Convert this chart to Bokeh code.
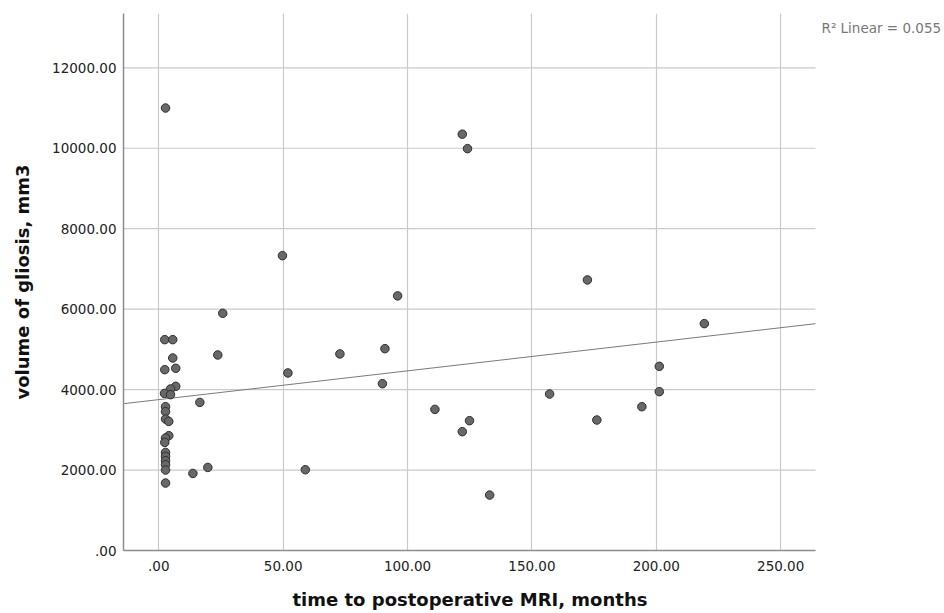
from bokeh.plotting import figure
from bokeh.models import FixedTicker, Range1d, ColumnDataSource, Title
from bokeh.core.properties import value
from bokeh.embed import file_html
from bokeh.resources import INLINE

# Data
months = [2.7, 122.0, 124.1, 49.7, 96.0, 72.8, 90.9, 51.9, 89.9, 111.0,
          124.9, 122.0, 58.9, 133.0, 157.1, 176.1, 172.3, 194.2, 201.2, 201.2,
          219.3, 25.7, 2.4, 5.6, 23.7, 5.6, 2.4, 6.8, 6.8, 4.7,
          2.3, 4.7, 16.5, 2.7, 2.7, 2.7, 4.0, 4.0, 2.7, 2.4,
          2.7, 2.7, 2.7, 2.7, 2.7, 13.7, 19.7, 2.7]
volume = [11000, 10350, 9990, 7330, 6330, 4887, 5018, 4414, 4147, 3508,
          3227, 2955, 2008, 1378, 3891, 3244, 6727, 3575, 4578, 3949,
          5640, 5897, 5242, 5242, 4861, 4786, 4496, 4529, 4081, 4015,
          3906, 3874, 3682, 3575, 3451, 3269, 3210, 2854, 2797, 2687,
          2438, 2339, 2232, 2132, 2000, 1916, 2065, 1677]

fit_intercept = [3751.0]
fit_slope = [7.15]
r2_text = ["R\u00b2 Linear = 0.055"]

x_ticks = [0, 50, 100, 150, 200, 250]
x_tick_labels = [".00", "50.00", "100.00", "150.00", "200.00", "250.00"]
y_ticks = [0, 2000, 4000, 6000, 8000, 10000, 12000]
y_tick_labels = [".00", "2000.00", "4000.00", "6000.00", "8000.00", "10000.00", "12000.00"]

x_title = "time to postoperative MRI, months"
y_title = "volume of gliosis, mm3"

# axis extent of the plotted area (x), plus extra canvas room on the right for the R² note
x_lo, x_hi = -14.2, 264.0
x_canvas_hi = 315.86
y_lo, y_hi = 0.0, 13350.0

p = figure(width=944, height=613, output_backend="svg", toolbar_location=None,
           x_range=Range1d(x_lo, x_canvas_hi), y_range=Range1d(y_lo, y_hi),
           min_border_left=123, min_border_right=0, min_border_top=13,
           min_border_bottom=63)
p.outline_line_color = None
p.background_fill_color = "white"
p.border_fill_color = "white"

font = "DejaVu Sans"
for ax, ticks, labels in ((p.xaxis[0], x_ticks, x_tick_labels), (p.yaxis[0], y_ticks, y_tick_labels)):
    ax.ticker = FixedTicker(ticks=ticks)
    ax.major_label_overrides = {t: l for t, l in zip(ticks, labels)}
    ax.major_tick_out = 0
    ax.major_tick_in = 0
    ax.minor_tick_out = 0
    ax.minor_tick_in = 0
    ax.axis_line_color = "#8c8c8c"
    ax.axis_line_width = 1.5
    ax.major_label_text_font = font
    ax.major_label_text_font_size = "13.5px"
    ax.major_label_text_color = "#222222"
    ax.axis_label_text_font = font
    ax.axis_label_text_font_style = "bold"
    ax.axis_label_text_font_size = "18px"
    ax.axis_label_text_color = "#111111"

p.xaxis.bounds = (x_lo, x_hi)
p.yaxis.axis_label = y_title
p.xaxis.major_label_standoff = 10
p.yaxis.major_label_standoff = 7
p.yaxis.axis_label_standoff = 16

# spacer between the tick labels and the x title
p.add_layout(Title(text=" ", standoff=0, text_font_size="9px"), "below")
# x-axis title, centred under the plotted area (not the whole canvas)
p.add_layout(Title(text=x_title, align="left", offset=169, standoff=2,
                   text_font=font, text_font_style="bold", text_font_size="18px",
                   text_color="#111111"), "below")

p.xgrid.ticker = FixedTicker(ticks=x_ticks)
p.ygrid.visible = False
grid_color = "#cacaca"
p.segment(x0=[x_lo] * len(y_ticks), x1=[x_hi] * len(y_ticks), y0=y_ticks, y1=y_ticks,
          line_color=grid_color, line_width=1.2, level="underlay")
p.xgrid.grid_line_color = grid_color
p.xgrid.grid_line_width = 1.2

# regression line across the plotted x range
fx = [x_lo, x_hi]
fy = [fit_intercept[0] + fit_slope[0] * v for v in fx]
p.line(fx, fy, line_color="#7a7a7a", line_width=1)

src = ColumnDataSource(dict(x=months, y=volume))
p.scatter("x", "y", source=src, size=8.5, fill_color="#686868",
          line_color="#2e2e2e", line_width=1)

p.text(x=[x_hi], y=[y_hi], text=r2_text, x_offset=6, y_offset=14,
       text_font=value(font), text_font_size="13.5px", text_color="#777777",
       text_baseline="middle", text_align="left")

open("out.html", "w").write(file_html(p, INLINE))
